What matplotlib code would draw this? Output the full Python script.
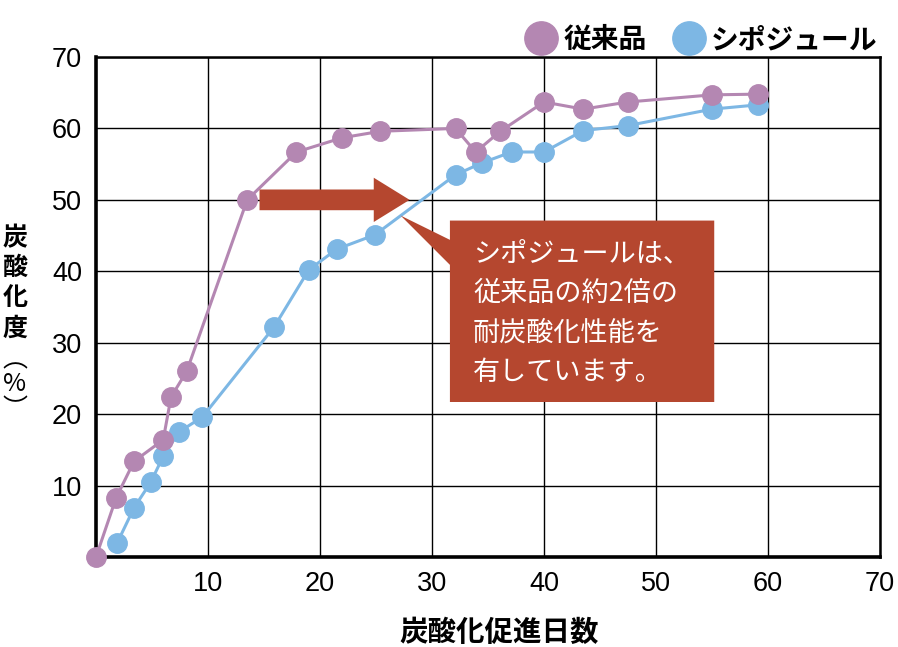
import matplotlib
matplotlib.use("Agg")
import matplotlib.pyplot as plt
from matplotlib.lines import Line2D
from matplotlib.patches import FancyArrow, Polygon

plt.rcParams["font.family"] = ["Noto Sans CJK JP", "DejaVu Sans"]

# 従来品
old_days = [0, 1.8, 3.4, 6.0, 6.7, 8.1, 13.5, 17.9, 22.0, 25.4, 32.1, 33.9, 36.1, 40.0, 43.5, 47.5, 55.0, 59.1]
old_rate = [0, 8.3, 13.4, 16.4, 22.4, 26.0, 50.0, 56.7, 58.7, 59.6, 60.0, 56.7, 59.6, 63.7, 62.7, 63.7, 64.7, 64.8]
# シポジュール
new_days = [1.9, 3.4, 4.9, 6.0, 7.4, 9.5, 15.9, 19.0, 21.5, 24.9, 32.1, 34.5, 37.1, 40.0, 43.5, 47.5, 55.0, 59.1]
new_rate = [2.0, 6.9, 10.5, 14.1, 17.5, 19.6, 32.2, 40.2, 43.1, 45.1, 53.5, 55.2, 56.7, 56.7, 59.7, 60.4, 62.7, 63.3]

series_names = ["従来品", "シポジュール"]
x_ticks = [10, 20, 30, 40, 50, 60, 70]
y_ticks = [10, 20, 30, 40, 50, 60, 70]
x_label = "炭酸化促進日数"
y_label_main = "炭\n酸\n化\n度"
y_label_unit = "︵\n%\n︶"
note_lines = ["シポジュールは、", "従来品の約2倍の", "耐炭酸化性能を", "有しています。"]

purple = "#b487b2"
blue = "#7db7e4"
red = "#b5472f"

fig = plt.figure(figsize=(8.98, 6.47), dpi=100)
ax = fig.add_axes([96 / 898, 1 - 557 / 647, 784 / 898, 500 / 647])
ax.set_xlim(0, 70)
ax.set_ylim(0, 70)
ax.set_xticks(x_ticks)
ax.set_yticks(y_ticks)
ax.grid(True, color="black", lw=1.0, zorder=0)
ax.set_axisbelow(True)
ax.tick_params(length=0, labelsize=19.5, pad=10)
for lbl in ax.get_xticklabels() + ax.get_yticklabels():
    lbl.set_fontfamily("Liberation Sans")
for side in ["left", "bottom"]:
    ax.spines[side].set_linewidth(2.6)
for side in ["top", "right"]:
    ax.spines[side].set_linewidth(1.8)

ax.plot(new_days, new_rate, color=blue, lw=2.2, marker="o", ms=14,
        clip_on=False, zorder=3)
ax.plot(old_days, old_rate, color=purple, lw=2.2, marker="o", ms=14,
        clip_on=False, zorder=3)

# arrow
arrow = FancyArrow(14.6, 50, 13.4, 0, width=2.9, head_width=6.2,
                   head_length=3.2, length_includes_head=True,
                   color=red, lw=0, zorder=4)
ax.add_patch(arrow)

# callout box
box = Polygon([(27.2, 47.8), (31.6, 44.4), (31.6, 47.1), (55.2, 47.1),
               (55.2, 21.7), (31.6, 21.7), (31.6, 40.9)],
              closed=True, facecolor=red, edgecolor="none", zorder=5)
ax.add_patch(box)
for i, line in enumerate(note_lines):
    fig.text(473 / 898, 1 - (254 + 39.5 * i) / 647, line, color="white",
             fontsize=19.5, va="center", ha="left", zorder=6)

# legend
handles = [Line2D([], [], ls="none", marker="o", ms=24, color=c) for c in [purple, blue]]
ax.legend(handles, series_names, loc="lower right", bbox_to_anchor=(1.0, 1.0),
          ncol=2, frameon=False, prop={"size": 20, "weight": "bold"},
          handletextpad=0.3, columnspacing=1.0, borderaxespad=0.1,
          borderpad=0.0, handlelength=1.0)

# axis labels
fig.text(499 / 898, 1 - 633 / 647, x_label, fontsize=20.5, fontweight="bold",
         ha="center", va="center")
fig.text(15 / 898, 1 - 226 / 647, y_label_main, fontsize=18, fontweight="bold",
         ha="center", va="top", linespacing=1.32)
fig.text(15 / 898, 1 - 347 / 647, y_label_unit, fontsize=18,
         ha="center", va="top", linespacing=0.92)

fig.savefig("out.png", dpi=100)
